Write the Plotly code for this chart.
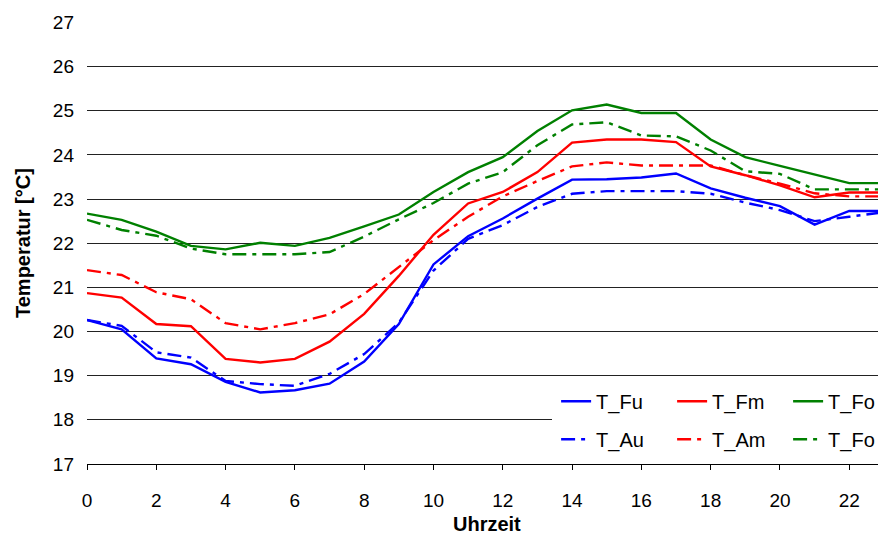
import plotly.graph_objects as go

hours = list(range(24))

T_Fu = [20.26, 20.05, 19.39, 19.26, 18.86, 18.62, 18.67, 18.82, 19.32, 20.17, 21.52, 22.16,
        22.56, 23.01, 23.44, 23.45, 23.49, 23.58, 23.24, 23.03, 22.84, 22.42, 22.73, 22.73]
T_Fm = [20.87, 20.77, 20.17, 20.12, 19.38, 19.30, 19.38, 19.77, 20.40, 21.26, 22.19, 22.90,
        23.16, 23.61, 24.28, 24.35, 24.35, 24.29, 23.74, 23.54, 23.31, 23.04, 23.15, 23.15]
T_Fo = [22.67, 22.53, 22.26, 21.94, 21.86, 22.01, 21.94, 22.12, 22.38, 22.65, 23.16, 23.61,
        23.95, 24.54, 25.01, 25.14, 24.95, 24.95, 24.35, 23.95, 23.75, 23.55, 23.36, 23.36]
T_Au = [20.26, 20.13, 19.53, 19.41, 18.88, 18.81, 18.77, 19.04, 19.49, 20.20, 21.38, 22.10,
        22.41, 22.82, 23.12, 23.18, 23.18, 23.18, 23.12, 22.92, 22.75, 22.50, 22.60, 22.70]
T_Am = [21.39, 21.28, 20.89, 20.73, 20.19, 20.05, 20.19, 20.39, 20.85, 21.47, 22.07, 22.60,
        23.06, 23.41, 23.74, 23.83, 23.76, 23.76, 23.76, 23.54, 23.35, 23.13, 23.06, 23.06]
T_Ao = [22.53, 22.30, 22.17, 21.88, 21.75, 21.75, 21.75, 21.80, 22.15, 22.54, 22.91, 23.35,
        23.61, 24.22, 24.69, 24.74, 24.44, 24.42, 24.10, 23.63, 23.57, 23.22, 23.22, 23.22]

x_ticks = list(range(0, 24, 2))
y_ticks = list(range(17, 28))

BLUE, RED, GREEN = "#0000FF", "#FF0000", "#008000"
DASH = "14px,6px,4px,6px"
FONT = "Liberation Sans, Arial, sans-serif"

series = [
    ("T_Fu", T_Fu, BLUE, "solid", "legend"),
    ("T_Fm", T_Fm, RED, "solid", "legend"),
    ("T_Fo", T_Fo, GREEN, "solid", "legend"),
    ("T_Au", T_Au, BLUE, DASH, "legend2"),
    ("T_Am", T_Am, RED, DASH, "legend2"),
    ("T_Fo", T_Ao, GREEN, DASH, "legend2"),
]

fig = go.Figure()
for name, vals, col, dash, leg in series:
    fig.add_trace(go.Scatter(x=hours, y=vals, name=name, mode="lines",
                             line=dict(color=col, width=2.4, dash=dash),
                             legend=leg, hoverinfo="skip"))

legend_common = dict(orientation="h", xanchor="left", yanchor="middle",
                     entrywidth=71, entrywidthmode="pixels",
                     bgcolor="white", bordercolor="white", borderwidth=4,
                     font=dict(family=FONT, size=20, color="black"))

PW, PH = 791, 442  # plot area size in px (for placing titles)

fig.update_layout(
    width=878, height=535,
    margin=dict(l=87, r=0, t=22, b=71, autoexpand=False),
    paper_bgcolor="white", plot_bgcolor="white",
    font=dict(family=FONT, size=19, color="black"),
    showlegend=True,
    legend=dict(x=0.588, y=0.142, **legend_common),
    legend2=dict(x=0.588, y=0.056, **legend_common),
    xaxis=dict(range=[0, 22.83], tickvals=x_ticks, ticktext=[str(v) for v in x_ticks],
               ticks="outside", ticklen=5, tickcolor="black", tickwidth=1,
               showline=True, linecolor="black", linewidth=1,
               showgrid=False, zeroline=False, ticklabelstandoff=14,
               tickfont=dict(size=19)),
    yaxis=dict(range=[17, 27.01], tickvals=y_ticks, ticktext=[str(v) for v in y_ticks],
               ticks="", showline=False, showgrid=True, gridcolor="#222222", gridwidth=1,
               zeroline=False, ticklabelstandoff=12, tickfont=dict(size=19)),
    annotations=[
        dict(text="<b>Temperatur [°C]</b>", xref="paper", yref="paper",
             x=(23 - 87) / PW, y=0.5, textangle=-90, showarrow=False,
             xanchor="center", yanchor="middle", font=dict(size=20)),
        dict(text="<b>Uhrzeit</b>", xref="paper", yref="paper",
             x=(487 - 87) / PW, y=-(524 - 464) / PH, showarrow=False,
             xanchor="center", yanchor="middle", font=dict(size=20)),
    ],
)

fig.write_html(
    "out.html",
    config={"displayModeBar": False, "staticPlot": True},
    post_script="document.documentElement.style.overflow='hidden';"
                "document.body.style.margin='0';document.body.style.overflow='hidden';",
)
